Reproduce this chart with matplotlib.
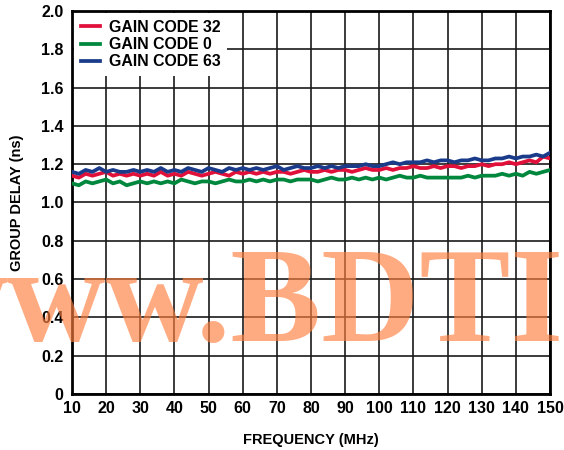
import numpy as np
import matplotlib
matplotlib.use("Agg")
import matplotlib.pyplot as plt

plt.rcParams['font.family'] = ['Liberation Sans', 'DejaVu Sans']
plt.rcParams['font.weight'] = 'bold'

# frequency points (MHz), every 2 MHz
freq = list(range(10, 152, 2))

# group delay (ns)
gain_63 = [1.16, 1.15, 1.17, 1.16, 1.18, 1.16, 1.17, 1.16, 1.16, 1.17,
           1.16, 1.17, 1.16, 1.18, 1.16, 1.17, 1.16, 1.18, 1.17, 1.16,
           1.18, 1.17, 1.16, 1.18, 1.17, 1.18, 1.17, 1.18, 1.17, 1.18,
           1.19, 1.17, 1.18, 1.19, 1.18, 1.18, 1.19, 1.18, 1.19, 1.18,
           1.19, 1.19, 1.19, 1.20, 1.19, 1.19, 1.20, 1.21, 1.20, 1.21,
           1.21, 1.21, 1.22, 1.21, 1.22, 1.22, 1.21, 1.22, 1.22, 1.23,
           1.22, 1.22, 1.23, 1.23, 1.24, 1.23, 1.24, 1.24, 1.25, 1.24,
           1.26]
gain_32 = [1.14, 1.13, 1.15, 1.14, 1.15, 1.16, 1.14, 1.15, 1.14, 1.15,
           1.14, 1.15, 1.14, 1.16, 1.14, 1.15, 1.14, 1.16, 1.15, 1.14,
           1.15, 1.16, 1.15, 1.14, 1.16, 1.15, 1.16, 1.15, 1.16, 1.15,
           1.16, 1.16, 1.15, 1.16, 1.17, 1.16, 1.16, 1.17, 1.16, 1.17,
           1.17, 1.16, 1.17, 1.18, 1.17, 1.17, 1.18, 1.17, 1.18, 1.18,
           1.19, 1.18, 1.18, 1.19, 1.18, 1.19, 1.19, 1.18, 1.19, 1.19,
           1.20, 1.19, 1.20, 1.20, 1.21, 1.20, 1.21, 1.22, 1.21, 1.24,
           1.23]
gain_0 = [1.10, 1.09, 1.11, 1.10, 1.11, 1.12, 1.10, 1.11, 1.09, 1.10,
          1.11, 1.10, 1.11, 1.10, 1.11, 1.10, 1.12, 1.11, 1.10, 1.11,
          1.11, 1.10, 1.11, 1.12, 1.11, 1.11, 1.12, 1.11, 1.12, 1.11,
          1.12, 1.12, 1.11, 1.12, 1.12, 1.12, 1.11, 1.12, 1.13, 1.12,
          1.12, 1.13, 1.12, 1.13, 1.12, 1.13, 1.12, 1.13, 1.14, 1.13,
          1.13, 1.14, 1.13, 1.13, 1.13, 1.13, 1.13, 1.13, 1.14, 1.13,
          1.14, 1.14, 1.14, 1.15, 1.14, 1.15, 1.14, 1.16, 1.15, 1.16,
          1.17]

fig = plt.figure(figsize=(5.64, 4.5), dpi=100)
ax = fig.add_axes([72 / 564, 56 / 450, 478 / 564, 383 / 450])

ax.plot(freq, gain_0, color='#00873E', lw=2.7, label='GAIN CODE 0', zorder=3)
ax.plot(freq, gain_32, color='#E0103A', lw=2.7, label='GAIN CODE 32', zorder=4)
ax.plot(freq, gain_63, color='#1A3A8A', lw=2.7, label='GAIN CODE 63', zorder=5)

ax.set_xlim(10, 150)
ax.set_ylim(0, 2.0)
ax.set_xticks(np.arange(10, 151, 10))
ax.set_yticks(np.arange(0, 2.01, 0.2))
ax.set_yticklabels(['0'] + [f'{v:.1f}' for v in np.arange(0.2, 2.01, 0.2)])
ax.grid(True, color='#1a1a1a', lw=1.2)
ax.set_axisbelow(True)
ax.tick_params(axis='y', length=0, labelsize=11.5, pad=6)
ax.tick_params(axis='x', length=0, labelsize=11.5, pad=5)
for s in ax.spines.values():
    s.set_linewidth(2)
    s.set_color('black')

ax.set_xlabel('FREQUENCY (MHz)', fontsize=10.5, fontweight='bold', labelpad=12)
ax.set_ylabel('GROUP DELAY (ns)', fontsize=10.5, fontweight='bold', labelpad=12)

h, l = ax.get_legend_handles_labels()
order = [1, 0, 2]
leg = ax.legend([h[i] for i in order], [l[i] for i in order], loc='upper left',
                frameon=True, fancybox=False, framealpha=1, edgecolor='white',
                fontsize=11.4, handlelength=1.2, handletextpad=0.6,
                borderaxespad=0.15, labelspacing=0.15)
leg.get_frame().set_linewidth(0)
leg.set_zorder(10)
for t in leg.get_texts():
    t.set_fontweight('bold')

# watermark
fig.text(-0.16, 0.243, 'www.BDTIC', fontsize=98, fontweight='bold',
         family='Liberation Serif', color='#FF7F3F', alpha=0.65, zorder=20)

fig.savefig('out.png', dpi=100)
